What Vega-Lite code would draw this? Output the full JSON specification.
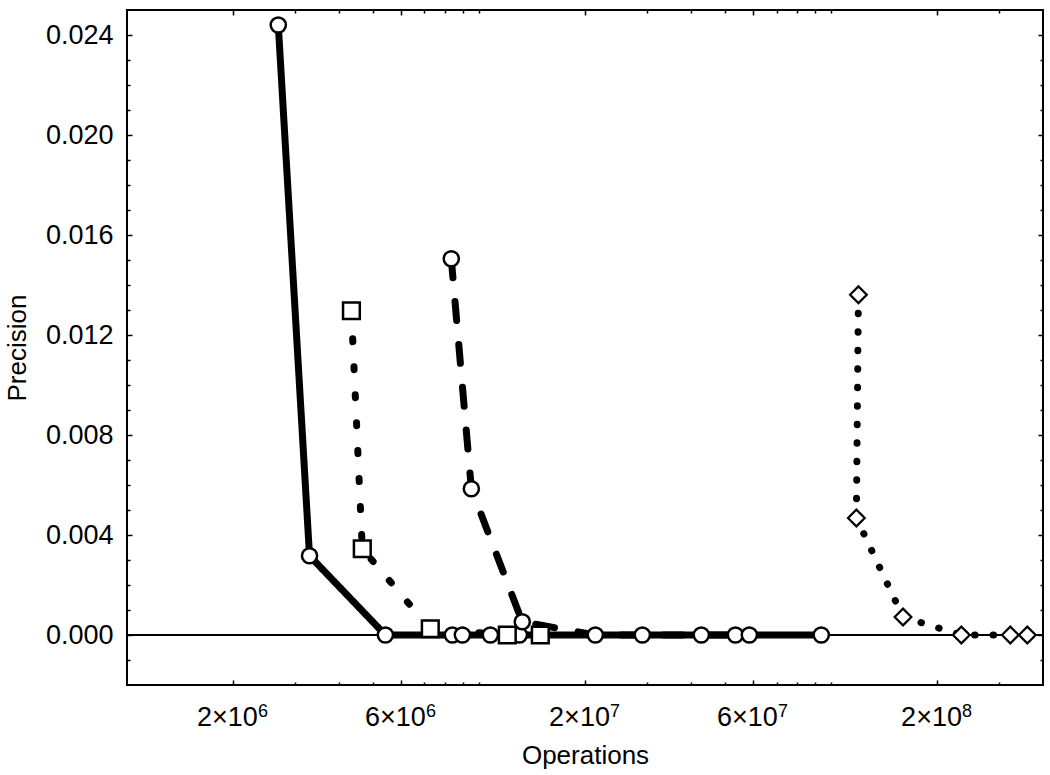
{
  "$schema": "https://vega.github.io/schema/vega-lite/v6.json",
  "width": 916,
  "height": 675,
  "autosize": {"type": "none"},
  "padding": {"left": 127, "top": 10, "right": 7, "bottom": 90},
  "background": "white",
  "config": {
    "view": {"stroke": "black", "strokeWidth": 2},
    "axis": {
      "grid": false,
      "domain": false,
      "labelFont": "Liberation Sans",
      "labelFontSize": 27,
      "labelColor": "black",
      "titleFont": "Liberation Sans",
      "titleFontSize": 26,
      "titleFontWeight": "normal",
      "titleColor": "black",
      "tickColor": "black",
      "tickWidth": 1.5
    }
  },
  "datasets": {
    "series": [
      {"s": "A", "ops": 2690000, "p": 0.0244},
      {"s": "A", "ops": 3300000, "p": 0.00317},
      {"s": "A", "ops": 5420000, "p": 0.0},
      {"s": "A", "ops": 8400000, "p": 0.0},
      {"s": "A", "ops": 8970000, "p": 0.0},
      {"s": "A", "ops": 10770000, "p": 0.0},
      {"s": "A", "ops": 13020000, "p": 0.0},
      {"s": "A", "ops": 29100000, "p": 0.0},
      {"s": "A", "ops": 53500000, "p": 0.0},
      {"s": "A", "ops": 93800000, "p": 0.0},
      {"s": "B", "ops": 4340000, "p": 0.01297},
      {"s": "B", "ops": 4660000, "p": 0.00345},
      {"s": "B", "ops": 7270000, "p": 0.00025},
      {"s": "B", "ops": 12030000, "p": 0.0},
      {"s": "B", "ops": 14930000, "p": 0.0},
      {"s": "C", "ops": 8340000, "p": 0.01505},
      {"s": "C", "ops": 9510000, "p": 0.00585},
      {"s": "C", "ops": 13270000, "p": 0.00053},
      {"s": "C", "ops": 21400000, "p": 0.0},
      {"s": "C", "ops": 42800000, "p": 0.0},
      {"s": "C", "ops": 58600000, "p": 0.0},
      {"s": "D", "ops": 119600000, "p": 0.01361},
      {"s": "D", "ops": 118000000, "p": 0.00468},
      {"s": "D", "ops": 160100000, "p": 0.00072},
      {"s": "D", "ops": 234500000, "p": 0.0},
      {"s": "D", "ops": 323000000, "p": 0.0},
      {"s": "D", "ops": 361000000, "p": 0.0}
    ],
    "exponents": [
      {"v": 2000000, "e": "6"},
      {"v": 6000000, "e": "6"},
      {"v": 20000000, "e": "7"},
      {"v": 60000000, "e": "7"},
      {"v": 200000000, "e": "8"}
    ]
  },
  "data": {"name": "series"},
  "resolve": {"axis": {"x": "independent", "y": "independent"}},
  "layer": [
    {
      "mark": {"type": "rule", "color": "black", "strokeWidth": 1.5},
      "encoding": {
        "y": {"datum": 0, "type": "quantitative", "scale": {"domain": [-0.002, 0.025], "nice": false, "zero": false}, "axis": null}
      }
    },
    {
      "mark": {"type": "line", "color": "black", "strokeWidth": 7, "strokeCap": "round", "strokeJoin": "round"},
      "encoding": {
        "x": {
          "field": "ops", "type": "quantitative",
          "scale": {"type": "log", "domain": [1000000, 400000000], "nice": false},
          "axis": {
            "orient": "bottom",
            "values": [2000000, 6000000, 20000000, 60000000, 200000000],
            "tickSize": -5,
            "labelPadding": 24,
            "labelOffset": -6,
            "labelFlush": false,
            "labelOverlap": false,
            "labelExpr": "datum.value == 2000000 ? '2×10' : datum.value == 6000000 ? '6×10' : datum.value == 20000000 ? '2×10' : datum.value == 60000000 ? '6×10' : '2×10'",
            "title": "Operations",
            "titlePadding": 12
          }
        },
        "y": {
          "field": "p", "type": "quantitative",
          "scale": {"domain": [-0.002, 0.025], "nice": false, "zero": false},
          "axis": {
            "orient": "left",
            "values": [0, 0.004, 0.008, 0.012, 0.016, 0.02, 0.024],
            "format": ".3f",
            "tickSize": -5,
            "labelPadding": 19,
            "labelFlush": false,
            "labelOverlap": false,
            "title": "Precision",
            "titlePadding": 15
          }
        },
        "detail": {"field": "s", "type": "nominal"},
        "strokeDash": {
          "field": "s", "type": "nominal",
          "scale": {"domain": ["A", "B", "C", "D"], "range": [[1, 0], [3, 25], [19, 24], [0.5, 18]]},
          "legend": null
        },
        "order": {"value": null}
      }
    },
    {
      "transform": [{"filter": "datum.s == 'A' || datum.s == 'C'"}],
      "mark": {"type": "point", "shape": "circle", "size": 230, "filled": true, "fill": "white", "stroke": "black", "strokeWidth": 2.5, "opacity": 1},
      "encoding": {
        "x": {
          "field": "ops", "type": "quantitative",
          "scale": {"type": "log", "domain": [1000000, 400000000], "nice": false},
          "axis": {
            "orient": "bottom",
            "values": [3000000, 4000000, 5000000, 7000000, 8000000, 9000000, 10000000, 30000000, 40000000, 50000000, 70000000, 80000000, 90000000, 100000000, 300000000],
            "tickSize": -3,
            "labels": false,
            "title": null
          }
        },
        "y": {
          "field": "p", "type": "quantitative",
          "scale": {"domain": [-0.002, 0.025], "nice": false, "zero": false},
          "axis": {
            "orient": "left",
            "values": [-0.001, 0.001, 0.002, 0.003, 0.005, 0.006, 0.007, 0.009, 0.01, 0.011, 0.013, 0.014, 0.015, 0.017, 0.018, 0.019, 0.021, 0.022, 0.023],
            "tickSize": -3,
            "labels": false,
            "title": null
          }
        }
      }
    },
    {
      "transform": [{"filter": "datum.s == 'B'"}],
      "mark": {"type": "point", "shape": "square", "size": 280, "filled": true, "fill": "white", "stroke": "black", "strokeWidth": 2.5, "opacity": 1},
      "encoding": {
        "x": {
          "field": "ops", "type": "quantitative",
          "scale": {"type": "log", "domain": [1000000, 400000000], "nice": false},
          "axis": {
            "orient": "top",
            "values": [2000000, 6000000, 20000000, 60000000, 200000000],
            "tickSize": -5,
            "labels": false,
            "title": null
          }
        },
        "y": {
          "field": "p", "type": "quantitative",
          "scale": {"domain": [-0.002, 0.025], "nice": false, "zero": false},
          "axis": {
            "orient": "right",
            "values": [0, 0.004, 0.008, 0.012, 0.016, 0.02, 0.024],
            "tickSize": -5,
            "labels": false,
            "title": null
          }
        }
      }
    },
    {
      "transform": [{"filter": "datum.s == 'D'"}],
      "mark": {"type": "point", "shape": "diamond", "size": 280, "filled": true, "fill": "white", "stroke": "black", "strokeWidth": 2.2, "opacity": 1},
      "encoding": {
        "x": {
          "field": "ops", "type": "quantitative",
          "scale": {"type": "log", "domain": [1000000, 400000000], "nice": false},
          "axis": {
            "orient": "top",
            "values": [3000000, 4000000, 5000000, 7000000, 8000000, 9000000, 10000000, 30000000, 40000000, 50000000, 70000000, 80000000, 90000000, 100000000, 300000000],
            "tickSize": -3,
            "labels": false,
            "title": null
          }
        },
        "y": {
          "field": "p", "type": "quantitative",
          "scale": {"domain": [-0.002, 0.025], "nice": false, "zero": false},
          "axis": {
            "orient": "right",
            "values": [-0.001, 0.001, 0.002, 0.003, 0.005, 0.006, 0.007, 0.009, 0.01, 0.011, 0.013, 0.014, 0.015, 0.017, 0.018, 0.019, 0.021, 0.022, 0.023],
            "tickSize": -3,
            "labels": false,
            "title": null
          }
        }
      }
    },
    {
      "data": {"name": "exponents"},
      "mark": {"type": "text", "align": "left", "baseline": "alphabetic", "dx": 25, "dy": 32, "fontSize": 18, "font": "Liberation Sans", "color": "black"},
      "encoding": {
        "x": {"field": "v", "type": "quantitative", "scale": {"type": "log", "domain": [1000000, 400000000], "nice": false}, "axis": null},
        "y": {"datum": -0.002, "type": "quantitative", "scale": {"domain": [-0.002, 0.025], "nice": false, "zero": false}, "axis": null},
        "text": {"field": "e"}
      }
    }
  ]
}
